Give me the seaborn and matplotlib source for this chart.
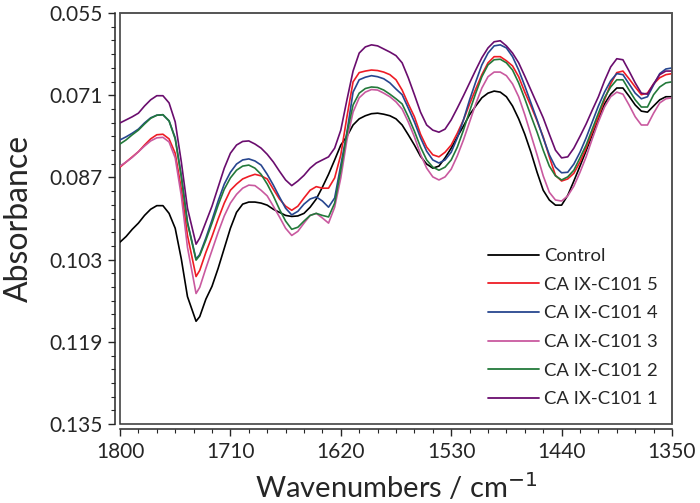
import numpy as np
import pandas as pd
import matplotlib
matplotlib.use("Agg")
import matplotlib.pyplot as plt
from matplotlib.patches import Rectangle
from matplotlib.ticker import FixedLocator, MultipleLocator
import seaborn as sns

# wavenumbers (cm-1)
wavenumber = [1800, 1795, 1790, 1785, 1780, 1775, 1770, 1765, 1760, 1755,
              1750, 1745, 1738, 1735, 1730, 1725, 1720, 1715, 1710, 1705,
              1700, 1695, 1690, 1685, 1680, 1675, 1670, 1665, 1660, 1655,
              1650, 1645, 1640, 1635, 1630, 1625, 1620, 1615, 1610, 1605,
              1600, 1595, 1590, 1585, 1580, 1575, 1570, 1565, 1560, 1555,
              1550, 1545, 1540, 1535, 1530, 1525, 1520, 1515, 1510, 1505,
              1500, 1495, 1490, 1485, 1480, 1475, 1470, 1465, 1460, 1455,
              1450, 1445, 1440, 1435, 1430, 1425, 1420, 1415, 1410, 1405,
              1400, 1395, 1390, 1385, 1380, 1375, 1370, 1365, 1360, 1355,
              1350]

control = [0.0996, 0.0985, 0.0971, 0.0959, 0.0944, 0.0932, 0.0925, 0.0925, 0.0940, 0.0969,
           0.1029, 0.1102, 0.1150, 0.1141, 0.1107, 0.1082, 0.1047, 0.1008, 0.0969, 0.0938,
           0.0922, 0.0918, 0.0918, 0.0920, 0.0924, 0.0932, 0.0938, 0.0944, 0.0946, 0.0945,
           0.0940, 0.0928, 0.0912, 0.0889, 0.0864, 0.0836, 0.0807, 0.0790, 0.0768, 0.0756,
           0.0750, 0.0746, 0.0745, 0.0747, 0.0750, 0.0756, 0.0768, 0.0787, 0.0807, 0.0829,
           0.0844, 0.0852, 0.0848, 0.0832, 0.0813, 0.0791, 0.0770, 0.0748, 0.0731, 0.0715,
           0.0706, 0.0702, 0.0704, 0.0713, 0.0731, 0.0756, 0.0786, 0.0821, 0.0860, 0.0895,
           0.0914, 0.0924, 0.0924, 0.0905, 0.0877, 0.0848, 0.0818, 0.0787, 0.0756, 0.0727,
           0.0708, 0.0696, 0.0696, 0.0712, 0.0729, 0.0741, 0.0743, 0.0731, 0.0719, 0.0713,
           0.0713]

c101_5 = [0.0850, 0.0840, 0.0830, 0.0820, 0.0807, 0.0795, 0.0787, 0.0786, 0.0795, 0.0823,
          0.0893, 0.0983, 0.1063, 0.1051, 0.1016, 0.0985, 0.0951, 0.0920, 0.0895, 0.0883,
          0.0873, 0.0868, 0.0864, 0.0867, 0.0873, 0.0893, 0.0912, 0.0926, 0.0934, 0.0926,
          0.0910, 0.0895, 0.0888, 0.0891, 0.0891, 0.0871, 0.0826, 0.0752, 0.0684, 0.0666,
          0.0663, 0.0661, 0.0662, 0.0665, 0.0670, 0.0680, 0.0700, 0.0727, 0.0752, 0.0786,
          0.0811, 0.0826, 0.0830, 0.0821, 0.0807, 0.0784, 0.0758, 0.0727, 0.0698, 0.0670,
          0.0647, 0.0635, 0.0635, 0.0643, 0.0653, 0.0674, 0.0704, 0.0731, 0.0760, 0.0791,
          0.0830, 0.0866, 0.0877, 0.0873, 0.0862, 0.0840, 0.0813, 0.0782, 0.0752, 0.0719,
          0.0688, 0.0666, 0.0663, 0.0678, 0.0694, 0.0709, 0.0706, 0.0688, 0.0676, 0.0670,
          0.0668]

c101_4 = [0.0797, 0.0791, 0.0784, 0.0776, 0.0764, 0.0754, 0.0749, 0.0748, 0.0760, 0.0793,
          0.0867, 0.0957, 0.1029, 0.1020, 0.0988, 0.0953, 0.0916, 0.0883, 0.0860, 0.0844,
          0.0836, 0.0834, 0.0838, 0.0846, 0.0864, 0.0885, 0.0908, 0.0930, 0.0943, 0.0936,
          0.0922, 0.0912, 0.0908, 0.0916, 0.0928, 0.0910, 0.0846, 0.0782, 0.0704, 0.0680,
          0.0675, 0.0672, 0.0674, 0.0678, 0.0686, 0.0698, 0.0709, 0.0735, 0.0762, 0.0793,
          0.0819, 0.0836, 0.0842, 0.0836, 0.0821, 0.0793, 0.0758, 0.0719, 0.0684, 0.0651,
          0.0628, 0.0614, 0.0612, 0.0618, 0.0635, 0.0661, 0.0692, 0.0725, 0.0758, 0.0793,
          0.0826, 0.0850, 0.0861, 0.0860, 0.0844, 0.0821, 0.0793, 0.0762, 0.0731, 0.0704,
          0.0682, 0.0668, 0.0670, 0.0688, 0.0706, 0.0717, 0.0713, 0.0690, 0.0668, 0.0659,
          0.0657]

c101_3 = [0.0848, 0.0840, 0.0831, 0.0820, 0.0809, 0.0799, 0.0793, 0.0792, 0.0801, 0.0832,
          0.0906, 0.1006, 0.1096, 0.1084, 0.1047, 0.1012, 0.0977, 0.0945, 0.0920, 0.0903,
          0.0891, 0.0885, 0.0886, 0.0895, 0.0906, 0.0926, 0.0947, 0.0969, 0.0983, 0.0975,
          0.0959, 0.0944, 0.0940, 0.0949, 0.0959, 0.0928, 0.0871, 0.0797, 0.0743, 0.0715,
          0.0704, 0.0699, 0.0700, 0.0706, 0.0713, 0.0723, 0.0737, 0.0762, 0.0791, 0.0825,
          0.0852, 0.0869, 0.0875, 0.0869, 0.0854, 0.0828, 0.0797, 0.0762, 0.0727, 0.0696,
          0.0674, 0.0665, 0.0665, 0.0672, 0.0688, 0.0713, 0.0748, 0.0787, 0.0826, 0.0867,
          0.0899, 0.0914, 0.0916, 0.0906, 0.0887, 0.0860, 0.0830, 0.0795, 0.0762, 0.0733,
          0.0713, 0.0704, 0.0708, 0.0729, 0.0752, 0.0768, 0.0768, 0.0745, 0.0725, 0.0717,
          0.0715]

c101_2 = [0.0805, 0.0797, 0.0787, 0.0778, 0.0766, 0.0755, 0.0749, 0.0748, 0.0760, 0.0795,
          0.0869, 0.0959, 0.1031, 0.1022, 0.0992, 0.0959, 0.0924, 0.0893, 0.0871, 0.0856,
          0.0848, 0.0846, 0.0852, 0.0864, 0.0883, 0.0906, 0.0932, 0.0955, 0.0971, 0.0967,
          0.0955, 0.0944, 0.0940, 0.0944, 0.0947, 0.0920, 0.0856, 0.0784, 0.0729, 0.0706,
          0.0697, 0.0694, 0.0695, 0.0700, 0.0708, 0.0717, 0.0727, 0.0752, 0.0780, 0.0811,
          0.0836, 0.0850, 0.0856, 0.0850, 0.0836, 0.0811, 0.0778, 0.0741, 0.0706, 0.0674,
          0.0651, 0.0641, 0.0640, 0.0647, 0.0661, 0.0686, 0.0717, 0.0750, 0.0782, 0.0817,
          0.0848, 0.0867, 0.0875, 0.0869, 0.0856, 0.0832, 0.0807, 0.0776, 0.0745, 0.0715,
          0.0694, 0.0680, 0.0680, 0.0700, 0.0719, 0.0733, 0.0733, 0.0709, 0.0694, 0.0686,
          0.0684]

c101_1 = [0.0764, 0.0758, 0.0752, 0.0745, 0.0731, 0.0719, 0.0711, 0.0711, 0.0725, 0.0762,
          0.0840, 0.0930, 0.1000, 0.0988, 0.0957, 0.0926, 0.0889, 0.0852, 0.0823, 0.0807,
          0.0800, 0.0799, 0.0805, 0.0813, 0.0825, 0.0840, 0.0858, 0.0875, 0.0886, 0.0877,
          0.0866, 0.0852, 0.0842, 0.0836, 0.0830, 0.0813, 0.0778, 0.0719, 0.0663, 0.0628,
          0.0616, 0.0612, 0.0614, 0.0620, 0.0626, 0.0633, 0.0647, 0.0676, 0.0709, 0.0743,
          0.0768, 0.0778, 0.0782, 0.0776, 0.0758, 0.0735, 0.0711, 0.0686, 0.0661, 0.0637,
          0.0618, 0.0606, 0.0604, 0.0614, 0.0628, 0.0647, 0.0673, 0.0700, 0.0727, 0.0754,
          0.0786, 0.0817, 0.0832, 0.0830, 0.0813, 0.0790, 0.0766, 0.0739, 0.0713, 0.0682,
          0.0655, 0.0639, 0.0641, 0.0663, 0.0686, 0.0706, 0.0708, 0.0688, 0.0670, 0.0663,
          0.0663]

labels = ["Control", "CA IX-C101 5", "CA IX-C101 4", "CA IX-C101 3", "CA IX-C101 2", "CA IX-C101 1"]
series = [control, c101_5, c101_4, c101_3, c101_2, c101_1]
colors = ["#000000", "#ee1c25", "#27468f", "#c9599f", "#23793a", "#6a0d6e"]

frames = []
for lab, vals in zip(labels, series):
    frames.append(pd.DataFrame({"Wavenumber": wavenumber, "Absorbance": vals, "Sample": lab}))
df = pd.concat(frames, ignore_index=True)

sns.set_style("ticks")
plt.rcParams["font.family"] = ["Lato", "DejaVu Sans"]

fig = plt.figure(figsize=(7.0, 5.03), dpi=100)
ax = fig.add_axes([120 / 700, 1 - 424 / 503, 552 / 700, (424 - 13) / 503])

sns.lineplot(data=df, x="Wavenumber", y="Absorbance", hue="Sample", hue_order=labels,
             palette=colors, estimator=None, sort=False, linewidth=1.2, ax=ax)

ax.set_xlim(1800, 1350)
ax.set_ylim(0.135, 0.055)

yt = [0.055, 0.071, 0.087, 0.103, 0.119, 0.135]
ax.yaxis.set_major_locator(FixedLocator(yt))
ax.set_yticklabels([f"{v:.3f}" for v in yt])
ax.yaxis.set_minor_locator(FixedLocator(np.linspace(0.055, 0.135, 31)))
ax.set_xticks([1800, 1710, 1620, 1530, 1440, 1350])
ax.xaxis.set_minor_locator(MultipleLocator(15))

ax.tick_params(axis="both", which="major", length=5, width=1, labelsize=15, direction="out", pad=4)
ax.tick_params(axis="both", which="minor", length=2.8, width=0.8, direction="out")

for side in ["left", "bottom"]:
    ax.spines[side].set_position(("outward", 3.6))
    ax.spines[side].set_linewidth(1.1)
for side in ["top", "right"]:
    ax.spines[side].set_visible(True)
    ax.spines[side].set_color("#555555")
    ax.spines[side].set_linewidth(1.1)
ax.add_patch(Rectangle((0, 0), 1, 1, transform=ax.transAxes, fill=False,
                       edgecolor="#333333", linewidth=1.1, clip_on=False))

ax.set_xlabel("Wavenumbers / cm$^{-1}$", fontsize=21, labelpad=7)
ax.set_ylabel("Absorbance", fontsize=23, labelpad=11)

leg = ax.legend(loc="lower right", bbox_to_anchor=(0.975, 0.041), frameon=False, fontsize=13.3,
                handlelength=2.76, handletextpad=0.3, labelspacing=0.68,
                borderpad=0, borderaxespad=0)
for line in leg.get_lines():
    line.set_linewidth(1.3)

fig.savefig("out.png", dpi=100)
